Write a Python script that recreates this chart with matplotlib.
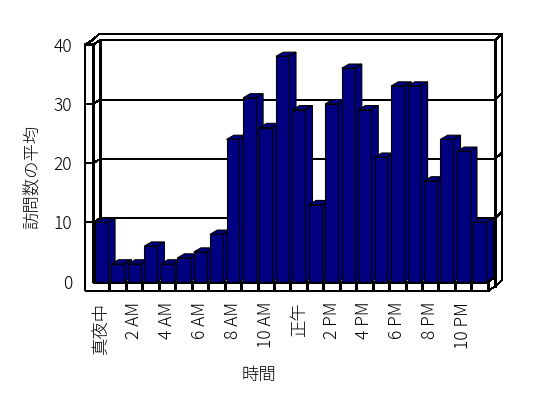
import matplotlib
matplotlib.use('Agg')
import matplotlib.pyplot as plt
import numpy as np

plt.rcParams['font.family'] = ['Noto Sans CJK JP', 'DejaVu Sans']
plt.rcParams['font.weight'] = 'light'

# average visits per hour
hours = ['真夜中', '1 AM', '2 AM', '3 AM', '4 AM', '5 AM', '6 AM', '7 AM',
         '8 AM', '9 AM', '10 AM', '11 AM', '正午', '1 PM', '2 PM', '3 PM',
         '4 PM', '5 PM', '6 PM', '7 PM', '8 PM', '9 PM', '10 PM', '11 PM']
visits = [10, 3, 3, 6, 3, 4, 5, 8, 24, 31, 26, 38,
          29, 13, 30, 36, 29, 21, 33, 33, 17, 24, 22, 10]
y_ticks = [0, 10, 20, 30, 40]

NAVY = '#000080'
LW = 0.8
n = len(visits)
ymax = y_ticks[-1]

# fake 3d geometry (category units / value units)
DX, DY = 0.44, 0.71      # depth of the plot box
TX, TY = 0.41, 1.06      # thickness of the back wall
WL = -0.486              # left wall front face
FB = -1.52               # floor front strip bottom
BOFF, BW = 0.12, 0.78    # bar offset / width inside a category

fig = plt.figure(figsize=(5.48, 3.98), dpi=100)
ax = fig.add_axes([0.1517, 0.2653, 0.7655, 0.6526])
ax.set_xlim(-0.6, 24.9)
ax.set_ylim(-1.8, 42)
for s in ax.spines.values():
    s.set_visible(False)


def line(xs, ys, z=1):
    ax.plot(xs, ys, color='black', lw=LW, zorder=z, solid_capstyle='butt',
            antialiased=False)


# outline of the walls + floor
line([WL, WL, WL + DX, WL + DX + TX, n + DX + TX, n + DX + TX, n + DX, n, WL],
     [FB, ymax, ymax + DY, ymax + DY + TY, ymax + DY + TY, FB + DY + TY,
      FB + DY, FB, FB])
line([0, 0], [0, ymax])
line([DX, DX], [DY, ymax + DY])
line([n + DX, n + DX], [FB + DY, ymax + DY])
line([n, n + DX], [0, DY])
line([n, n], [0, FB])
line([0, n], [0, 0])
line([DX, n + DX], [DY, DY])
line([0, DX], [0, DY])

# gridlines across left wall, back wall and wall thickness
for v in y_ticks[1:]:
    line([WL, 0, DX, n + DX, n + DX + TX],
         [v, v, v + DY, v + DY, v + DY + TY])

# category dividers on the floor front
for i in range(1, n):
    line([i, i], [0, FB])

# bars, left to right so each front hides the previous side
x0 = np.arange(n) + BOFF
bars = ax.bar(x0, visits, BW, align='edge', color=NAVY, edgecolor='black',
              linewidth=LW)
for i, (b, v) in enumerate(zip(bars, visits)):
    z = 3 + i * 0.01
    b.set_zorder(z + 0.005)
    xl, xr = x0[i], x0[i] + BW
    ax.fill([xl, xr, xr + DX, xl + DX], [v, v, v + DY, v + DY],
            facecolor=NAVY, edgecolor='black', lw=LW, zorder=z)
    ax.fill([xr, xr + DX, xr + DX, xr], [0, DY, v + DY, v],
            facecolor=NAVY, edgecolor='black', lw=LW, zorder=z)

ax.set_yticks(y_ticks)
ax.set_xticks(np.arange(0, n, 2) + 0.5)
ax.set_xticklabels(hours[::2], rotation=90)
ax.tick_params(axis='y', length=0, pad=8, labelsize=12.5)
ax.tick_params(axis='x', length=0, pad=6.8, labelsize=12.5)

fig.text(33 / 548, 1 - 176.7 / 398, '訪問数の平均', rotation=90,
         ha='center', va='center', fontsize=12.5)
fig.text(259 / 548, 1 - 375 / 398, '時間', ha='center', va='center',
         fontsize=12.5)

fig.savefig('out.png', dpi=100, facecolor='white')
